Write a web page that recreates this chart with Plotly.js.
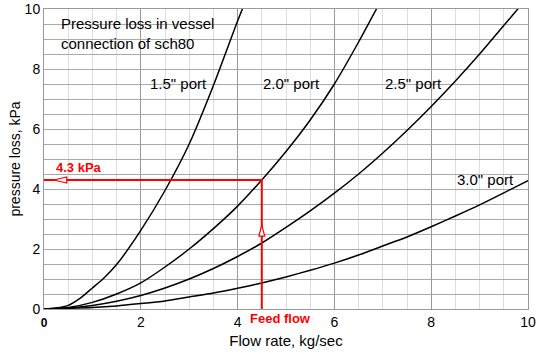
<!DOCTYPE html>
<html>
<head>
<meta charset="utf-8">
<script src="https://cdn.plot.ly/plotly-3.0.1.min.js"></script>
<style>html,body{margin:0;padding:0;background:#fff;}#chart{width:540px;height:353px;}</style>
</head>
<body>
<div id="chart"></div>
<script>
// Pressure loss curves (Flow rate kg/sec -> pressure loss kPa)
const x15 = [0, 0.25, 0.5, 0.75, 1, 1.25, 1.5, 2, 2.5, 3, 3.5, 4, 4.2];
const y15 = [0, 0.03, 0.12, 0.36, 0.7, 1.05, 1.48, 2.62, 3.95, 5.5, 7.45, 9.6, 10.4];

const x20 = [0, 0.5, 1, 1.5, 2, 2.5, 3, 3.5, 4, 4.5, 5, 5.5, 6, 6.5, 7];
const y20 = [0, 0.05, 0.22, 0.5, 0.87, 1.4, 2.0, 2.68, 3.43, 4.3, 5.25, 6.3, 7.5, 8.9, 10.4];

const x25 = [0, 0.5, 1, 1.5, 2, 2.5, 3, 3.5, 4, 4.5, 5, 5.5, 6, 6.5, 7, 7.5, 8, 8.5, 9, 9.5, 10];
const y25 = [0, 0.03, 0.12, 0.26, 0.45, 0.7, 1.0, 1.35, 1.75, 2.2, 2.72, 3.27, 3.86, 4.5, 5.2, 5.95, 6.75, 7.6, 8.5, 9.45, 10.4];

const x30 = [0, 1, 1.5, 2, 2.5, 3, 3.5, 4, 4.5, 5, 5.5, 6, 6.5, 7, 7.5, 8, 8.5, 9, 9.5, 10];
const y30 = [0, 0.05, 0.1, 0.18, 0.27, 0.4, 0.53, 0.69, 0.87, 1.07, 1.29, 1.53, 1.8, 2.1, 2.4, 2.74, 3.1, 3.47, 3.87, 4.28];

const portLabels = ['1.5" port', '2.0" port', '2.5" port', '3.0" port'];
const portLabelX = [2.77, 5.12, 7.63, 9.13];
const portLabelY = [7.53, 7.53, 7.53, 4.33];

// Operating point
const feedFlow = 4.5;
const feedPressure = 4.3;

const xTickVals = [0, 2, 4, 6, 8, 10];
const xTickText = ['<b style="font-size:12px">0</b>', '2', '4', '6', '8', '10'];
const yTickVals = [0, 2, 4, 6, 8, 10];

const lineStyle = {color: '#000', width: 1.5, shape: 'spline', smoothing: 0.6};
const traces = [
  {x: x15, y: y15, mode: 'lines', line: lineStyle, name: portLabels[0], hoverinfo: 'skip'},
  {x: x20, y: y20, mode: 'lines', line: lineStyle, name: portLabels[1], hoverinfo: 'skip'},
  {x: x25, y: y25, mode: 'lines', line: lineStyle, name: portLabels[2], hoverinfo: 'skip'},
  {x: x30, y: y30, mode: 'lines', line: lineStyle, name: portLabels[3], hoverinfo: 'skip'},
  // Red guide lines
  {x: [0, feedFlow, feedFlow], y: [feedPressure, feedPressure, 0], mode: 'lines',
   line: {color: '#ff0000', width: 2}, hoverinfo: 'skip', cliponaxis: false}
];

const font = 'Liberation Sans, Arial, sans-serif';

// hollow arrowheads
const hTip = 0.2, hBase = 0.47, hHalf = 0.1;
const vTip = 2.8, vBase = 2.43, vHalf = 0.06;
const shapes = [
  {type: 'path', xref: 'x', yref: 'y',
   path: `M ${hTip} ${feedPressure} L ${hBase} ${feedPressure + hHalf} L ${hBase} ${feedPressure - hHalf} Z`,
   fillcolor: '#fff', line: {color: '#ff0000', width: 1.2}},
  {type: 'path', xref: 'x', yref: 'y',
   path: `M ${feedFlow} ${vTip} L ${feedFlow - vHalf} ${vBase} L ${feedFlow + vHalf} ${vBase} Z`,
   fillcolor: '#fff', line: {color: '#ff0000', width: 1.2}}
];

const annotations = portLabels.map((t, i) => ({
  x: portLabelX[i], y: portLabelY[i], text: t, showarrow: false,
  font: {family: font, size: 15, color: '#000'}
}));
annotations.push({
  x: 0.31, y: 9.17, xanchor: 'left', align: 'left', showarrow: false,
  text: 'Pressure loss in vessel<br>connection of sch80',
  font: {family: font, size: 15, color: '#000'}
});
annotations.push({
  x: 0.72, y: 4.73, showarrow: false, text: '<b>' + feedPressure + ' kPa</b>',
  font: {family: font, size: 13, color: '#ff0000'}
});
annotations.push({
  x: 4.89, xref: 'x', y: -0.03, yref: 'paper', yanchor: 'middle', showarrow: false,
  text: '<b>Feed flow</b>',
  font: {family: font, size: 13, color: '#ff0000'}
});

const layout = {
  width: 540, height: 353,
  margin: {l: 44, r: 12, t: 9, b: 44},
  paper_bgcolor: '#fff', plot_bgcolor: '#fff',
  showlegend: false,
  font: {family: font, size: 14, color: '#000'},
  xaxis: {
    range: [0, 10], tickvals: xTickVals, ticktext: xTickText,
    showgrid: true, gridcolor: '#999', gridwidth: 1,
    minor: {dtick: 0.5, showgrid: true, gridcolor: '#ddd', gridwidth: 1},
    showline: true, linecolor: '#999', mirror: true, zeroline: false,
    ticks: '', tickfont: {family: font, size: 14},
    title: {text: 'Flow rate, kg/sec', font: {family: font, size: 15}, standoff: 6}
  },
  yaxis: {
    range: [0, 10], tickvals: yTickVals,
    showgrid: true, gridcolor: '#aaa', gridwidth: 1,
    minor: {dtick: 0.5, showgrid: true, gridcolor: '#aaa', gridwidth: 1},
    showline: true, linecolor: '#999', mirror: true, zeroline: false,
    ticks: '', tickfont: {family: font, size: 14},
    title: {text: 'pressure loss, kPa', font: {family: font, size: 14}, standoff: 0}
  },
  shapes: shapes,
  annotations: annotations
};

Plotly.newPlot('chart', traces, layout, {staticPlot: true, displayModeBar: false});
</script>
</body>
</html>
